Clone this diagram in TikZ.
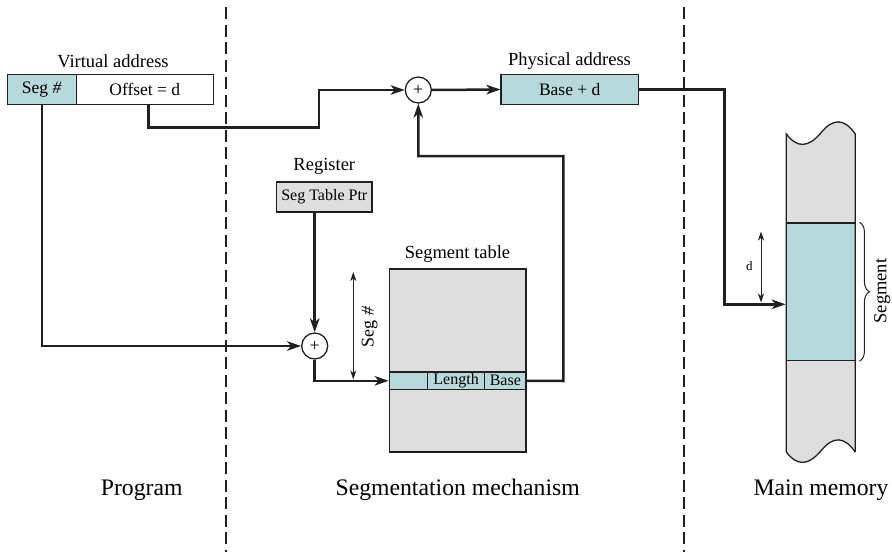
\documentclass[tikz,border=0pt]{standalone}
\usepackage{fontspec}
\setmainfont{Liberation Serif}
\usetikzlibrary{arrows.meta,decorations.pathreplacing}
\definecolor{teal1}{HTML}{B7D9DB}
\definecolor{gray1}{HTML}{DEDEDE}
\definecolor{ink}{HTML}{231F20}
\tikzset{
  conn/.style={draw=ink, line width=2.5pt},
  arr/.style={conn, -{Stealth[length=14pt,width=9.5pt,inset=4pt]}},
  thinarr/.style={draw=ink, line width=1pt, {Stealth[length=9pt,width=6pt,inset=2.5pt]}-{Stealth[length=9pt,width=6pt,inset=2.5pt]}},
  box/.style={draw=ink, line width=1.3pt, inner sep=0pt, font=\fontsize{17.5}{20}\selectfont},
  sumnode/.style={draw=ink, line width=1.3pt, circle, fill=white, minimum size=26pt, inner sep=0pt, font=\fontsize{18}{20}\selectfont},
  midlabel/.style={inner sep=0pt, font=\fontsize{18.5}{22}\selectfont},
  biglabel/.style={inner sep=0pt, font=\fontsize{23.7}{28}\selectfont},
  divider/.style={draw=ink, line width=2.6pt, dash pattern=on 12pt off 5.5pt},
}
\begin{document}
\begin{tikzpicture}[x=1pt,y=-1pt]
\useasboundingbox (0,0) rectangle (892,554);
% dividers
\coordinate (d1t) at (226,7); \coordinate (d1b) at (226,552);
\coordinate (d2t) at (684,7); \coordinate (d2b) at (684,552);
\draw[divider] (d1t) -- (d1b);
\draw[divider] (d2t) -- (d2b);

% virtual address
\node[box, fill=teal1, minimum width=69pt, minimum height=30pt] (seg) at (41.8,89.5) {Seg \textit{\#}};
\node[box, fill=white, minimum width=137pt, minimum height=30pt] (off) at (144.8,89.5) {Offset = d};
\node[midlabel] (valab) at (113,61) {Virtual address};

% physical address
\node[sumnode] (p1) at (418.3,90) {+};
\node[box, fill=teal1, minimum width=137.3pt, minimum height=29.5pt] (phys) at (569.7,89.5) {Base + d};
\node[midlabel] (palab) at (569.5,61) {Physical address};

% register
\node[box, fill=gray1, minimum width=95.3pt, minimum height=30pt, font=\fontsize{16}{18}\selectfont] (reg) at (324.3,197) {Seg Table Ptr};
\node[midlabel] (reglab) at (324.3,166) {Register};

% second adder
\node[sumnode] (p2) at (314.7,346) {+};

% segment table
\node[draw=ink, line width=1.3pt, fill=gray1, minimum width=136.7pt, minimum height=183pt, inner sep=0pt] (tab) at (457.65,360.5) {};
\node[midlabel] (tablab) at (457.5,254) {Segment table};
\node[box, fill=teal1, minimum width=38.2pt, minimum height=17.6pt] (r1) at (408.4,380.8) {};
\node[box, fill=teal1, minimum width=57pt, minimum height=17.6pt, font=\fontsize{16}{18}\selectfont] (r2) at (456.1,380.8) {Length};
\node[box, fill=teal1, minimum width=41.5pt, minimum height=17.6pt, font=\fontsize{16}{18}\selectfont] (r3) at (505.3,380.8) {Base};

% main memory
\fill[gray1] (786.3,134) .. controls (797,148) and (808,148) .. (820.8,133)
  .. controls (833,118) and (844,118) .. (855.3,134) -- (855.3,452)
  .. controls (844,436) and (833,436) .. (820.8,451)
  .. controls (808,466) and (797,466) .. (786.3,452) -- cycle;
\node[draw=ink, line width=1.3pt, fill=teal1, minimum width=69pt, minimum height=137.5pt, inner sep=0pt] (mseg) at (820.8,291.75) {};
\draw[draw=ink, line width=1.3pt] (786.3,452) -- (786.3,134) .. controls (797,148) and (808,148) .. (820.8,133)
  .. controls (833,118) and (844,118) .. (855.3,134) -- (855.3,452);
\draw[draw=ink, line width=1.3pt] (786.3,452)
  .. controls (797,466) and (808,466) .. (820.8,451)
  .. controls (833,436) and (844,436) .. (855.3,452);
\draw[draw=ink, line width=1pt, decorate, decoration={brace, amplitude=10pt}] ([xshift=3.5pt]mseg.north east) -- ([xshift=3.5pt]mseg.south east);
\node[midlabel, rotate=90] (seglab) at (882.2,291) {Segment};

% connectors
\draw[arr] (seg.south) |- (p2.west);
\coordinate (o1) at (148.3,127.5);
\coordinate (o2) at (319,127.5);
\draw[arr] ([xshift=3.5pt]off.south) |- (o1) -- (o2) |- (p1.west);
\draw[arr] (p1.east) -- (phys.west);
\draw[arr] (reg.south -| p2) -- (p2.north);
\draw[arr] (p2.south) |- (r1.west);
\coordinate (b1) at (563.3,381);
\coordinate (b2) at (563.3,156);
\draw[arr] (r3.east) -- (b1) -- (b2) -| (p1.south);
\coordinate (m1) at (724.3,89.5);
\coordinate (m2) at (724.3,304.3);
\draw[arr] (phys.east) -- (m1) -- (m2) -- (m2 -| mseg.west);

% dimension arrows
\coordinate (sa) at (353.3,272);
\coordinate (sb) at (353.3,379.5);
\draw[thinarr] (sa) -- (sb);
\node[midlabel, rotate=90, font=\fontsize{18}{20}\selectfont] (seghash) at (369.5,327) {Seg \textit{\#}};
\coordinate (da) at (761,231.5);
\coordinate (db) at (761,302.5);
\draw[thinarr] (da) -- (db);
\node[inner sep=0pt, font=\fontsize{13}{15}\selectfont] (dlab) at (749.3,266) {d};

% bottom labels
\node[biglabel] (prog) at (141.7,490) {Program};
\node[biglabel] (segm) at (457.7,490) {Segmentation mechanism};
\node[biglabel] (mm) at (821,490) {Main memory};
\end{tikzpicture}
\end{document}
